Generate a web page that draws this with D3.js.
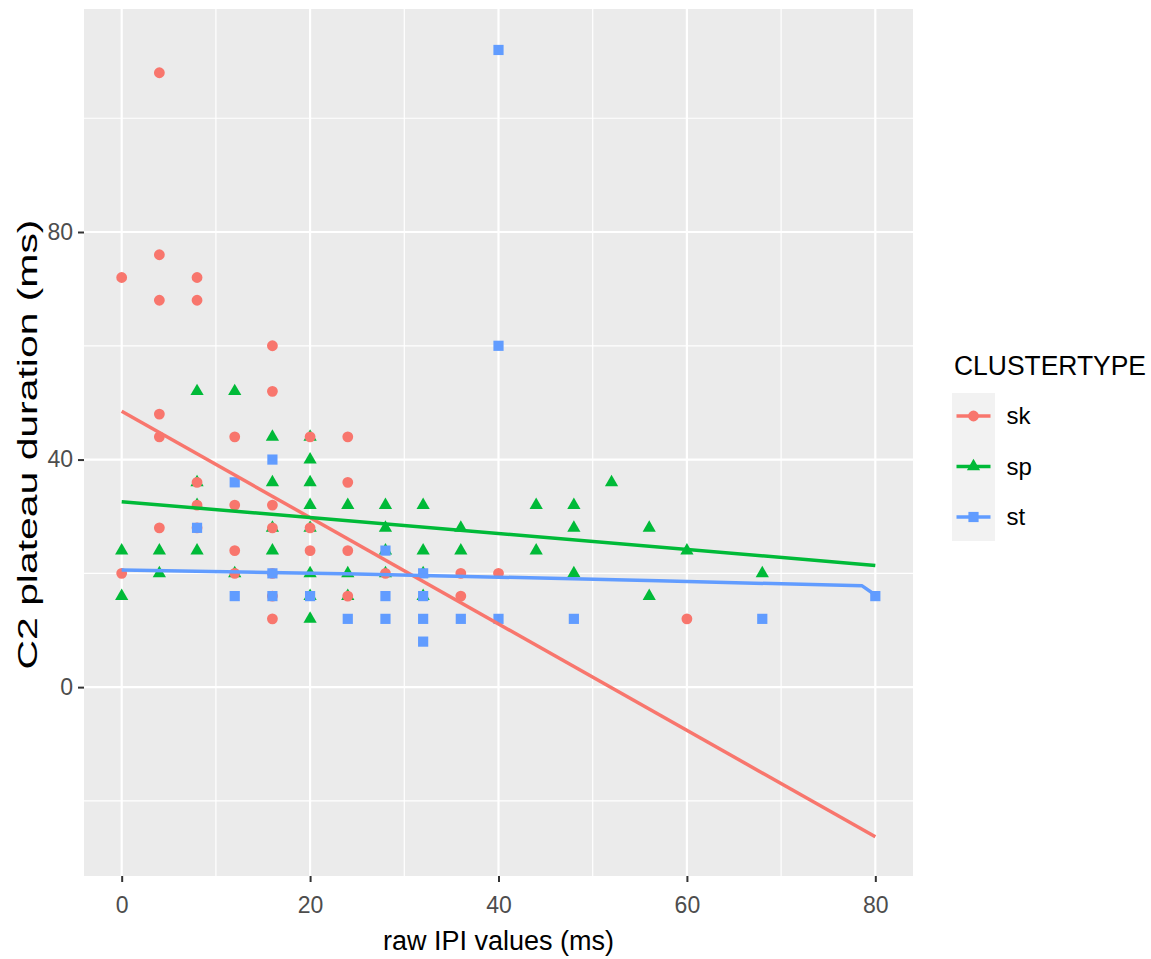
<!DOCTYPE html>
<html>
<head>
<meta charset="utf-8">
<script src="https://cdn.jsdelivr.net/npm/d3@7"></script>
<style>
  html, body { margin: 0; padding: 0; background: #fff; }
  svg { display: block; font-family: "Liberation Sans", Arial, sans-serif; }
</style>
</head>
<body>
<div id="chart"></div>
<script>
// ── Data ─────────────────────────────────────────────────────
const GROUPS = ['sk', 'sp', 'st'];

const SK_POINTS = [
  [4,108],[4,76],[0,72],[8,72],[4,68],[8,68],[16,60],[16,52],[4,48],[4,44],
  [12,44],[20,44],[24,44],[8,36],[24,36],[8,32],[12,32],[16,32],[4,28],[8,28],
  [16,28],[20,28],[12,24],[20,24],[24,24],[0,20],[12,20],[16,20],[16,16],[24,16],
  [16,12],[28,20],[36,20],[40,20],[36,16],[60,12],
];

const SP_POINTS = [
  [8,52],[12,52],[16,44],[20,44],[20,40],[8,36],[16,36],[20,36],[8,32],[20,32],
  [24,32],[16,28],[20,28],[0,24],[4,24],[8,24],[16,24],[4,20],[12,20],[20,20],
  [24,20],[0,16],[20,16],[24,16],[20,12],[28,32],[32,32],[44,32],[48,32],[52,36],
  [28,28],[36,28],[48,28],[56,28],[28,24],[32,24],[36,24],[44,24],[28,20],[32,20],
  [48,20],[32,16],[56,16],[60,24],[68,20],
];

const ST_POINTS = [
  [40,112],[40,60],[16,40],[12,36],[8,28],[28,24],[16,20],[32,20],[12,16],[16,16],
  [20,16],[28,16],[32,16],[24,12],[28,12],[32,12],[36,12],[40,12],[48,12],[68,12],
  [32,8],[80,16],
];

// fitted lines, endpoints / bends
const SK_FIT = [[0,48.5],[80,-26.3]];
const SP_FIT = [[0,32.6],[80,21.4]];
const ST_FIT = [[0,20.6],[25,19.9],[57,18.7],[78.6,17.8],[80,16.2]];

const X_TICKS = [0, 20, 40, 60, 80];
const X_MINOR = [10, 30, 50, 70];
const Y_TICKS = [0, 40, 80];
const Y_MINOR = [-20, 20, 60, 100];

// ── Design tokens (ggplot2 defaults) ─────────────────────────
const COLORS = { sk: '#F8766D', sp: '#00BA38', st: '#619CFF' };
const SHAPES = { sk: d3.symbolCircle, sp: d3.symbolTriangle, st: d3.symbolSquare };
const SIZES  = { sk: 92, sp: 76, st: 104 };

const POINTS = { sk: SK_POINTS, sp: SP_POINTS, st: ST_POINTS };
const FITS   = { sk: SK_FIT, sp: SP_FIT, st: ST_FIT };

// ── Layout ───────────────────────────────────────────────────
const width  = 1151;
const height = 959;
const panel  = { left: 84, right: 913, top: 9, bottom: 876 };

const svg = d3.select('#chart')
  .append('svg')
  .attr('width', width)
  .attr('height', height);

const x = d3.scaleLinear().domain([-4, 84]).range([panel.left, panel.right]);
const y = d3.scaleLinear().domain([-33.2, 119.2]).range([panel.bottom, panel.top]);

// ── Panel + grid ─────────────────────────────────────────────
svg.append('rect')
  .attr('x', panel.left)
  .attr('y', panel.top)
  .attr('width', panel.right - panel.left)
  .attr('height', panel.bottom - panel.top)
  .attr('fill', '#EBEBEB');

const grid = svg.append('g').attr('stroke', '#fff');

grid.selectAll('.xminor').data(X_MINOR).join('line')
  .attr('x1', d => x(d)).attr('x2', d => x(d))
  .attr('y1', panel.top).attr('y2', panel.bottom)
  .attr('stroke-width', 1.2);

grid.selectAll('.yminor').data(Y_MINOR).join('line')
  .attr('y1', d => y(d)).attr('y2', d => y(d))
  .attr('x1', panel.left).attr('x2', panel.right)
  .attr('stroke-width', 1.2);

grid.selectAll('.xmajor').data(X_TICKS).join('line')
  .attr('x1', d => x(d)).attr('x2', d => x(d))
  .attr('y1', panel.top).attr('y2', panel.bottom)
  .attr('stroke-width', 2.2);

grid.selectAll('.ymajor').data(Y_TICKS).join('line')
  .attr('y1', d => y(d)).attr('y2', d => y(d))
  .attr('x1', panel.left).attr('x2', panel.right)
  .attr('stroke-width', 2.2);

// ── Axes ─────────────────────────────────────────────────────
const xAxis = svg.append('g')
  .attr('transform', `translate(0,${panel.bottom})`)
  .call(d3.axisBottom(x).tickValues(X_TICKS).tickSize(6).tickPadding(15));

const yAxis = svg.append('g')
  .attr('transform', `translate(${panel.left},0)`)
  .call(d3.axisLeft(y).tickValues(Y_TICKS).tickSize(6).tickPadding(5));

[xAxis, yAxis].forEach(a => {
  a.select('.domain').remove();
  a.selectAll('.tick line').attr('stroke', '#333').attr('stroke-width', 2);
  a.selectAll('.tick text')
    .attr('fill', '#4D4D4D')
    .attr('font-size', 23)
    .attr('font-family', '"Liberation Sans", Arial, sans-serif');
});

// ── Points (sp under sk under st) ────────────────────────────
const order = ['sp', 'sk', 'st'];
order.forEach(key => {
  svg.append('g').selectAll('path')
    .data(POINTS[key])
    .join('path')
    .attr('d', d3.symbol().type(SHAPES[key]).size(SIZES[key]))
    .attr('transform', d => `translate(${x(d[0])},${y(d[1])})`)
    .attr('fill', COLORS[key]);
});

// ── Fitted lines ─────────────────────────────────────────────
const line = d3.line().x(d => x(d[0])).y(d => y(d[1]));

GROUPS.forEach(key => {
  svg.append('path')
    .datum(FITS[key])
    .attr('d', line)
    .attr('fill', 'none')
    .attr('stroke', COLORS[key])
    .attr('stroke-width', 3.5)
    .attr('stroke-linejoin', 'round');
});

// ── Axis titles ──────────────────────────────────────────────
svg.append('text')
  .attr('x', (panel.left + panel.right) / 2)
  .attr('y', 950)
  .attr('text-anchor', 'middle')
  .attr('font-size', 27)
  .attr('fill', '#000')
  .text('raw IPI values (ms)');

svg.append('text')
  .attr('transform', `translate(37,${(panel.top + panel.bottom) / 2 + 2}) rotate(-90)`)
  .attr('text-anchor', 'middle')
  .attr('font-size', 27)
  .attr('textLength', 450)
  .attr('lengthAdjust', 'spacingAndGlyphs')
  .attr('fill', '#000')
  .text('C2 plateau duration (ms)');

// ── Legend ───────────────────────────────────────────────────
const legend = svg.append('g');

legend.append('text')
  .attr('x', 954)
  .attr('y', 375)
  .attr('font-size', 27)
  .attr('textLength', 192)
  .attr('lengthAdjust', 'spacingAndGlyphs')
  .attr('fill', '#000')
  .text('CLUSTERTYPE');

legend.append('rect')
  .attr('x', 952)
  .attr('y', 393)
  .attr('width', 43)
  .attr('height', 148)
  .attr('fill', '#F2F2F2');

const keyY = d3.scalePoint().domain(GROUPS).range([416, 517]);

const keys = legend.selectAll('.key')
  .data(GROUPS)
  .join('g')
  .attr('transform', d => `translate(973.5,${keyY(d)})`);

keys.append('line')
  .attr('x1', -17).attr('x2', 17)
  .attr('stroke', d => COLORS[d])
  .attr('stroke-width', 3.5);

keys.append('path')
  .attr('d', d => d3.symbol().type(SHAPES[d]).size(SIZES[d])())
  .attr('fill', d => COLORS[d]);

keys.append('text')
  .attr('x', 33)
  .attr('dy', '0.35em')
  .attr('font-size', 24)
  .attr('fill', '#000')
  .text(d => d);
</script>
</body>
</html>
